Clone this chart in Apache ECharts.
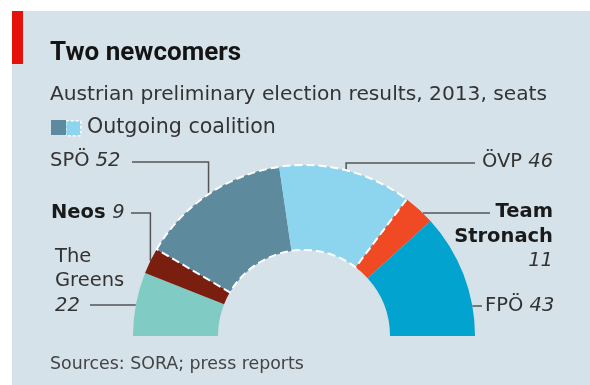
<!DOCTYPE html>
<html><head><meta charset="utf-8">
<script src="https://cdn.jsdelivr.net/npm/echarts@6/dist/echarts.min.js"></script>
<style>html,body{margin:0;padding:0;background:#fff}#c{width:590px;height:385px}</style>
</head><body><div id="c"></div>
<script>
// ---- data ----
const parties = ['The Greens', 'Neos', 'SPÖ', 'ÖVP', 'Team Stronach', 'FPÖ'];
const seats = [22, 9, 52, 46, 11, 43];
const coalition = ['SPÖ', 'ÖVP'];
const titleText = 'Two newcomers';
const subtitleText = 'Austrian preliminary election results, 2013, seats';
const legendText = 'Outgoing coalition';
const sourceText = 'Sources: SORA; press reports';

// ---- styles / layout ----
const FONT = '"DejaVu Sans"';
const TFONT = 'Roboto';
const partyColors = ['#80ccc5', '#7a1e0f', '#5d8a9c', '#8dd5ef', '#ef4a23', '#02a3cf'];
const CX = 304, CY = 336, R0 = 86, R = 171;
const labelCfg = {
  'The Greens':    {x: 55,  y: 318, align: 'left',  va: 'bottom', lineY: 305, endX: 90,  mode: 'h', bold: false, multi: true},
  'Neos':          {x: 51,  y: 213, align: 'left',  va: 'middle', lineY: 213, endX: 131, mode: 'v', bold: true},
  'SPÖ':           {x: 50,  y: 161, align: 'left',  va: 'middle', lineY: 162, endX: 132, mode: 'v', bold: false},
  'ÖVP':           {x: 482, y: 162, align: 'left',  va: 'middle', lineY: 163, endX: 475, mode: 'v', bold: false},
  'Team Stronach': {x: 553, y: 200, align: 'right', va: 'top',    lineY: 213, endX: 490, mode: 'h', bold: true, multi: true},
  'FPÖ':           {x: 485, y: 306, align: 'left',  va: 'middle', lineY: 306, endX: 482, mode: 'h', bold: false}
};

const total = seats.reduce((a, b) => a + b, 0);
const cum = [];
seats.reduce((acc, v, i) => { cum[i] = acc; return acc + v; }, 0);

function midAnchor(i) {
  const ang = (180 - (cum[i] + seats[i] / 2) / total * 180) * Math.PI / 180;
  return [CX + R * Math.cos(ang), CY - R * Math.sin(ang)];
}
function arcXAtY(y, side) {
  const dy = CY - y;
  return CX + side * Math.sqrt(R * R - dy * dy);
}

const data = parties.map((p, i) => ({
  name: p, value: seats[i], itemStyle: {color: partyColors[i]}
}));

// coalition overlay
const coalIdx = parties.map((p, i) => coalition.includes(p) ? i : -1).filter(i => i >= 0);
const firstC = Math.min(...coalIdx), lastC = Math.max(...coalIdx);
const leftSum = seats.slice(0, firstC).reduce((a, b) => a + b, 0);
const coalSum = seats.slice(firstC, lastC + 1).reduce((a, b) => a + b, 0);
const rightSum = seats.slice(lastC + 1).reduce((a, b) => a + b, 0);
const overlay = [
  {value: leftSum, itemStyle: {color: 'transparent', borderWidth: 0}},
  {value: coalSum, itemStyle: {color: 'transparent', borderColor: '#ffffff', borderWidth: 2, borderType: [8, 4]}},
  {value: rightSum, itemStyle: {color: 'transparent', borderWidth: 0}}
];

const rich = {
  n: {fontFamily: FONT, fontSize: 19.5, color: '#333', lineHeight: 24.5},
  b: {fontFamily: FONT, fontSize: 19.5, color: '#1a1a1a', fontWeight: 'bold', lineHeight: 24.5},
  v: {fontFamily: FONT, fontSize: 19.5, color: '#333', fontStyle: 'italic', lineHeight: 24.5}
};

const chart = echarts.init(document.getElementById('c'), null, {renderer: 'canvas'});
chart.setOption({
  backgroundColor: '#d6e2e9',
  animation: false,
  title: [
    {text: titleText, left: 50, top: 40, padding: 0,
     textStyle: {fontFamily: TFONT, fontSize: 26, fontWeight: 'bold', color: '#141414'}},
    {text: subtitleText, left: 50, top: 85, padding: 0,
     textStyle: {fontFamily: FONT, fontSize: 20.2, fontWeight: 'normal', color: '#333'}},
    {text: legendText, left: 87, top: 117, padding: 0,
     textStyle: {fontFamily: FONT, fontSize: 20.6, fontWeight: 'normal', color: '#333'}},
    {text: sourceText, left: 50, top: 356, padding: 0,
     textStyle: {fontFamily: FONT, fontSize: 17.4, fontWeight: 'normal', color: '#444'}}
  ],
  graphic: [
    {type: 'rect', left: 0, top: 0, shape: {width: 590, height: 11}, style: {fill: '#fff'}, silent: true},
    {type: 'rect', left: 0, top: 0, shape: {width: 12, height: 385}, style: {fill: '#fff'}, silent: true},
    {type: 'rect', left: 12, top: 11, shape: {width: 11, height: 53}, style: {fill: '#e3120b'}, silent: true},
    {type: 'rect', left: 65, top: 120, shape: {width: 15, height: 15}, style: {fill: partyColors[3], stroke: '#fff', lineWidth: 1.5, lineDash: [3, 2]}, silent: true},
    {type: 'rect', left: 51, top: 120, shape: {width: 15, height: 15}, style: {fill: partyColors[2]}, silent: true}
  ],
  series: [
    {
      type: 'pie',
      center: [CX, CY],
      radius: [R0, R],
      startAngle: 180,
      endAngle: 0,
      clockwise: true,
      silent: true,
      avoidLabelOverlap: false,
      data: data,
      label: {
        show: true,
        position: 'outside',
        rich: rich,
        formatter: function (p) {
          const cfg = labelCfg[p.name];
          const st = cfg.bold ? 'b' : 'n';
          if (cfg.multi) {
            return p.name.split(' ').map(w => '{' + st + '|' + w + '}').join('\n') + '\n{v|' + p.value + '}';
          }
          return '{' + st + '|' + p.name + ' }{v|' + p.value + '}';
        }
      },
      labelLine: {show: true, lineStyle: {color: '#555', width: 1.5}},
      labelLayout: function (params) {
        const i = params.dataIndex;
        const cfg = labelCfg[parties[i]];
        let pts;
        if (cfg.mode === 'v') {
          const a = midAnchor(i);
          pts = [a, [a[0], cfg.lineY], [cfg.endX, cfg.lineY]];
        } else {
          const side = cfg.endX > CX ? 1 : -1;
          const ax = arcXAtY(cfg.lineY, side);
          pts = [[ax, cfg.lineY], [(ax + cfg.endX) / 2, cfg.lineY], [cfg.endX, cfg.lineY]];
        }
        return {x: cfg.x, y: cfg.y, align: cfg.align, verticalAlign: cfg.va, labelLinePoints: pts};
      }
    },
    {
      type: 'pie',
      center: [CX, CY],
      radius: [R0, R],
      startAngle: 180,
      endAngle: 0,
      clockwise: true,
      silent: true,
      z: 5,
      label: {show: false},
      labelLine: {show: false},
      data: overlay
    }
  ]
});
</script>
</body></html>
